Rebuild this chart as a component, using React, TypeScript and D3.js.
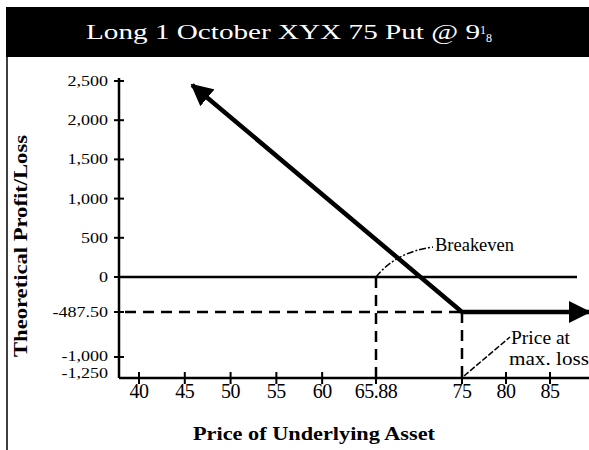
import React, { useRef, useEffect } from 'react';
import * as d3 from 'd3';

const width = 589;
const height = 450;

// y axis ticks (the original chart is not evenly spaced, hence the piecewise scale)
const yTickValues = [2500, 2000, 1500, 1000, 500, 0, -487.5, -1000, -1250];
const yTickLabels = ['2,500', '2,000', '1,500', '1,000', '500', '0', '-487.50', '-1,000', '-1,250'];
const xTickValues = [40, 45, 50, 55, 60, 65.88, 75, 80, 85];
const xTickLabels = ['40', '45', '50', '55', '60', '65.88', '75', '80', '85'];

// profit/loss line of the long put
const payoffPrice = [45.8, 75, 89.3];
const payoffPL = [2450, -487.5, -487.5];

const strike = 75;
const breakeven = 65.88;
const maxLoss = -487.5;

const serif = '"Liberation Serif", "Times New Roman", serif';

export default function App() {
    const ref = useRef(null);

    useEffect(() => {
        if (!ref.current) return;
        const svg = d3.select(ref.current);
        svg.selectAll('*').remove();

        const x = d3.scaleLinear()
            .domain([37.8, 40, 65.88, 75, 85, 89.3])
            .range([119, 139, 376, 462, 550, 589]);
        const y = d3.scaleLinear()
            .domain([-1250, -1000, -487.5, 0, 2500])
            .range([378, 357, 312, 277, 81]);

        const defs = svg.append('defs');
        defs.append('marker')
            .attr('id', 'arrow')
            .attr('viewBox', '0 0 22 22')
            .attr('refX', 20)
            .attr('refY', 11)
            .attr('markerWidth', 22)
            .attr('markerHeight', 22)
            .attr('markerUnits', 'userSpaceOnUse')
            .attr('orient', 'auto-start-reverse')
            .append('path')
            .attr('d', 'M0,0 L22,11 L0,22 Z')
            .style('fill', '#000');

        // title bar
        svg.append('rect')
            .attr('x', 6).attr('y', 7)
            .attr('width', width - 6).attr('height', 50)
            .style('fill', '#000');

        const title = svg.append('text')
            .attr('x', 86).attr('y', 39)
            .style('font-family', serif)
            .style('font-size', '20px')
            .style('fill', '#fff');
        title.append('tspan').text('Long 1  October XYX 75  Put @ 9')
            .attr('textLength', 394).attr('lengthAdjust', 'spacingAndGlyphs');
        title.append('tspan').text('1').attr('dy', -5).style('font-size', '12px');
        title.append('tspan').text('8').attr('dy', 8).style('font-size', '12px');

        // left border
        svg.append('line')
            .attr('x1', 7).attr('x2', 7)
            .attr('y1', 57).attr('y2', height)
            .style('stroke', '#000').style('stroke-width', 1.5);

        const g = svg.append('g');

        // axes lines
        g.append('line')
            .attr('x1', x(37.8)).attr('x2', x(37.8))
            .attr('y1', y(2500) - 3).attr('y2', y(-1250))
            .style('stroke', '#000').style('stroke-width', 2.5);
        g.append('line')
            .attr('x1', x(37.8)).attr('x2', width)
            .attr('y1', y(-1250)).attr('y2', y(-1250))
            .style('stroke', '#000').style('stroke-width', 2.5);

        // y ticks
        yTickValues.forEach((v, i) => {
            if (v !== -1250) {
                g.append('line')
                    .attr('x1', x(37.8) - 5).attr('x2', x(37.8) + 5)
                    .attr('y1', y(v)).attr('y2', y(v))
                    .style('stroke', '#000').style('stroke-width', 2);
            }
            const label = g.append('text')
                .attr('x', 108)
                .attr('y', v === -1250 ? 378 : (v === -1000 ? 361 : y(v) + 5))
                .attr('text-anchor', 'end')
                .style('font-family', serif)
                .style('font-size', '15px')
                .text(yTickLabels[i]);
            const w = (label.node() as SVGTextElement).getComputedTextLength();
            label.attr('textLength', w * 1.2).attr('lengthAdjust', 'spacingAndGlyphs');
        });

        // x ticks
        xTickValues.forEach((v, i) => {
            g.append('line')
                .attr('x1', x(v)).attr('x2', x(v))
                .attr('y1', y(-1250) - 6).attr('y2', y(-1250) + 6)
                .style('stroke', '#000').style('stroke-width', 2);
            g.append('text')
                .attr('x', x(v))
                .attr('y', 398)
                .attr('text-anchor', 'middle')
                .style('font-family', serif)
                .style('font-size', '20px')
                .style('letter-spacing', '-0.5px')
                .text(xTickLabels[i]);
        });

        // zero line
        g.append('line')
            .attr('x1', x(37.8)).attr('x2', 577)
            .attr('y1', y(0)).attr('y2', y(0))
            .style('stroke', '#000').style('stroke-width', 2.5);

        // dashed guides
        const dash = (x1, y1, x2, y2) => g.append('line')
            .attr('x1', x1).attr('y1', y1).attr('x2', x2).attr('y2', y2)
            .style('stroke', '#000').style('stroke-width', 2.5)
            .style('stroke-dasharray', '11,7');
        dash(x(37.8) + 6, y(maxLoss), x(strike), y(maxLoss));
        dash(x(breakeven), y(0), x(breakeven), y(-1250));
        dash(x(strike), y(maxLoss), x(strike), y(-1250));

        // payoff line
        const line = d3.line()
            .x(d => x(d[0]))
            .y(d => y(d[1]));
        g.append('path')
            .datum(d3.zip(payoffPrice, payoffPL))
            .attr('d', line)
            .style('fill', 'none')
            .style('stroke', '#000')
            .style('stroke-width', 4.5)
            .attr('marker-start', 'url(#arrow)')
            .attr('marker-end', 'url(#arrow)');

        // breakeven annotation
        const bx = x(breakeven), by = y(0);
        g.append('path')
            .attr('d', `M${bx},${by} Q${bx + 20},${by - 25} ${bx + 57},${by - 30}`)
            .style('fill', 'none').style('stroke', '#000').style('stroke-width', 1.5)
            .style('stroke-dasharray', '7,2,2,2');
        g.append('text')
            .attr('x', bx + 59).attr('y', by - 26)
            .attr('textLength', 79).attr('lengthAdjust', 'spacingAndGlyphs')
            .style('font-family', serif)
            .style('font-size', '18px')
            .text('Breakeven');

        // max loss annotation
        const mx = x(strike), my = y(-1250);
        g.append('line')
            .attr('x1', mx + 2).attr('y1', my - 2)
            .attr('x2', mx + 48).attr('y2', my - 41)
            .style('stroke', '#000').style('stroke-width', 1.5)
            .style('stroke-dasharray', '6,2');
        g.append('text')
            .attr('x', mx + 49).attr('y', my - 34)
            .attr('textLength', 59).attr('lengthAdjust', 'spacingAndGlyphs')
            .style('font-family', serif)
            .style('font-size', '18px')
            .text('Price at');
        g.append('text')
            .attr('x', mx + 47).attr('y', my - 13)
            .attr('textLength', 80).attr('lengthAdjust', 'spacingAndGlyphs')
            .style('font-family', serif)
            .style('font-size', '18px')
            .text('max. loss');

        // axis titles
        g.append('text')
            .attr('transform', 'translate(27, 246) rotate(-90)')
            .attr('text-anchor', 'middle')
            .attr('textLength', 222)
            .attr('lengthAdjust', 'spacingAndGlyphs')
            .style('font-family', serif)
            .style('font-weight', 'bold')
            .style('font-size', '18px')
            .text('Theoretical Profit/Loss');
        g.append('text')
            .attr('x', 314).attr('y', 440)
            .attr('text-anchor', 'middle')
            .attr('textLength', 242)
            .attr('lengthAdjust', 'spacingAndGlyphs')
            .style('font-family', serif)
            .style('font-weight', 'bold')
            .style('font-size', '19px')
            .text('Price of Underlying Asset');
    }, []);

    return (
        <svg ref={ref} width={width} height={height}
            style={{ position: 'absolute', left: 0, top: 0, background: '#fff' }} />
    );
}
